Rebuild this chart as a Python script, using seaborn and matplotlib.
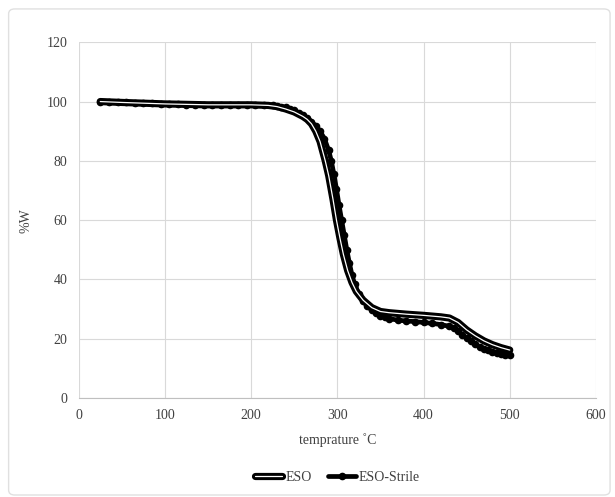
import matplotlib
matplotlib.use("Agg")
import matplotlib.pyplot as plt
import matplotlib.patheffects as pe
from matplotlib.patches import FancyBboxPatch
import seaborn as sns
import pandas as pd

# temperature (°C) and weight (%)
temp_eso = [25, 50, 100, 150, 200, 220, 230, 240, 250, 260, 265, 270, 275, 280, 286, 290,
            295, 299, 303, 307, 312, 317, 322, 330, 340, 350, 360, 380, 400, 420, 430,
            440, 450, 460, 470, 480, 490, 500]
w_eso = [100, 99.7, 99.2, 98.9, 98.9, 98.7, 98.3, 97.5, 96.5, 95.0, 94.0, 92.5, 90.0, 86.5, 80.0, 75.0,
         67.0, 60.0, 54.0, 48.5, 43.0, 39.0, 36.0, 33.0, 30.5, 29.2, 28.8, 28.3, 27.9, 27.4, 27.0,
         25.5, 23.0, 21.0, 19.3, 18.0, 17.0, 16.2]

temp_strile = [25, 35, 45, 55, 65, 75, 85, 95, 105, 115, 125, 135, 145, 155, 165, 175, 185,
               195, 205, 215, 225, 230, 235, 240, 245, 250, 255, 260, 265, 270, 275, 280,
               285, 290, 293, 296, 299, 302, 305, 308, 311, 314, 317, 320, 325, 330, 335,
               340, 345, 350, 355, 360, 370, 380, 390, 400, 410, 420, 430, 435,
               440, 445, 450, 455, 460, 465, 470, 475, 480, 485, 490, 495, 500]
w_strile = [100, 99.9, 99.8, 99.7, 99.6, 99.5, 99.4, 99.3, 99.2, 99.1, 99.0, 99.0, 99.0, 99.0, 99.0, 99.0, 99.0,
            99.0, 99.0, 98.9, 98.7, 98.5, 98.3, 98.0, 97.6, 97.0, 96.3, 95.5, 94.5, 93.2, 91.8, 90.0,
            87.5, 83.5, 80.0, 75.5, 70.5, 65.0, 60.0, 55.0, 50.0, 45.5, 41.5, 38.5, 35.0, 32.8, 31.0,
            29.6, 28.6, 27.8, 27.2, 26.8, 26.3, 26.0, 25.8, 25.5, 25.2, 24.8, 24.2, 23.6,
            22.6, 21.4, 20.2, 19.1, 18.1, 17.3, 16.7, 16.1, 15.7, 15.3, 15.0, 14.7, 14.4]

x_ticks = [0, 100, 200, 300, 400, 500, 600]
y_ticks = [0, 20, 40, 60, 80, 100, 120]

sns.set_theme(style="whitegrid")
plt.rcParams["font.family"] = ["Liberation Serif", "DejaVu Serif"]

fig = plt.figure(figsize=(6.15, 4.97), dpi=100)
fig.patches.append(FancyBboxPatch((0.014, 0.004), 0.978, 0.978, boxstyle="round,pad=0,rounding_size=0.01",
                                  transform=fig.transFigure, facecolor="white",
                                  edgecolor="#e0e0e0", linewidth=1.0, zorder=-1))
ax = fig.add_axes([0.128, 0.199, 0.841, 0.716])
ax.set_facecolor("none")

df_eso = pd.DataFrame({"t": temp_eso, "w": w_eso})
df_str = pd.DataFrame({"t": temp_strile, "w": w_strile})

sns.lineplot(data=df_str, x="t", y="w", ax=ax, color="black", linewidth=3.4, sort=False,
             marker="o", markersize=5.5, markeredgewidth=0, label="ESO-Strile", zorder=2)
sns.lineplot(data=df_eso, x="t", y="w", ax=ax, color="white", linewidth=0.9, sort=False,
             label="ESO", zorder=3,
             path_effects=[pe.Stroke(linewidth=5.2, foreground="black"), pe.Normal()])

ax.set_xlim(0, 600)
ax.set_ylim(0, 120)
ax.set_xticks(x_ticks)
ax.set_yticks(y_ticks)
ax.grid(True, color="#d9d9d9", linewidth=0.8)
for s in ["top", "right", "left"]:
    ax.spines[s].set_visible(False)
ax.spines["bottom"].set_color("#bfbfbf")
ax.spines["bottom"].set_linewidth(0.8)
ax.tick_params(axis="both", length=0, labelsize=10, colors="#404040", pad=8)

ax.set_xlabel("temprature ˚C", fontsize=10, color="#404040", labelpad=8)
ax.set_ylabel("%W", fontsize=10, color="#404040", labelpad=10)

handles, labels = ax.get_legend_handles_labels()
order = [labels.index("ESO"), labels.index("ESO-Strile")]
ax.legend([handles[i] for i in order], [labels[i] for i in order],
          loc="upper center", bbox_to_anchor=(0.5, -0.17), ncol=2, frameon=False,
          fontsize=10, handlelength=2.0, columnspacing=1.2, handletextpad=0.2,
          labelcolor="#404040")

fig.savefig("out.png", dpi=100)
